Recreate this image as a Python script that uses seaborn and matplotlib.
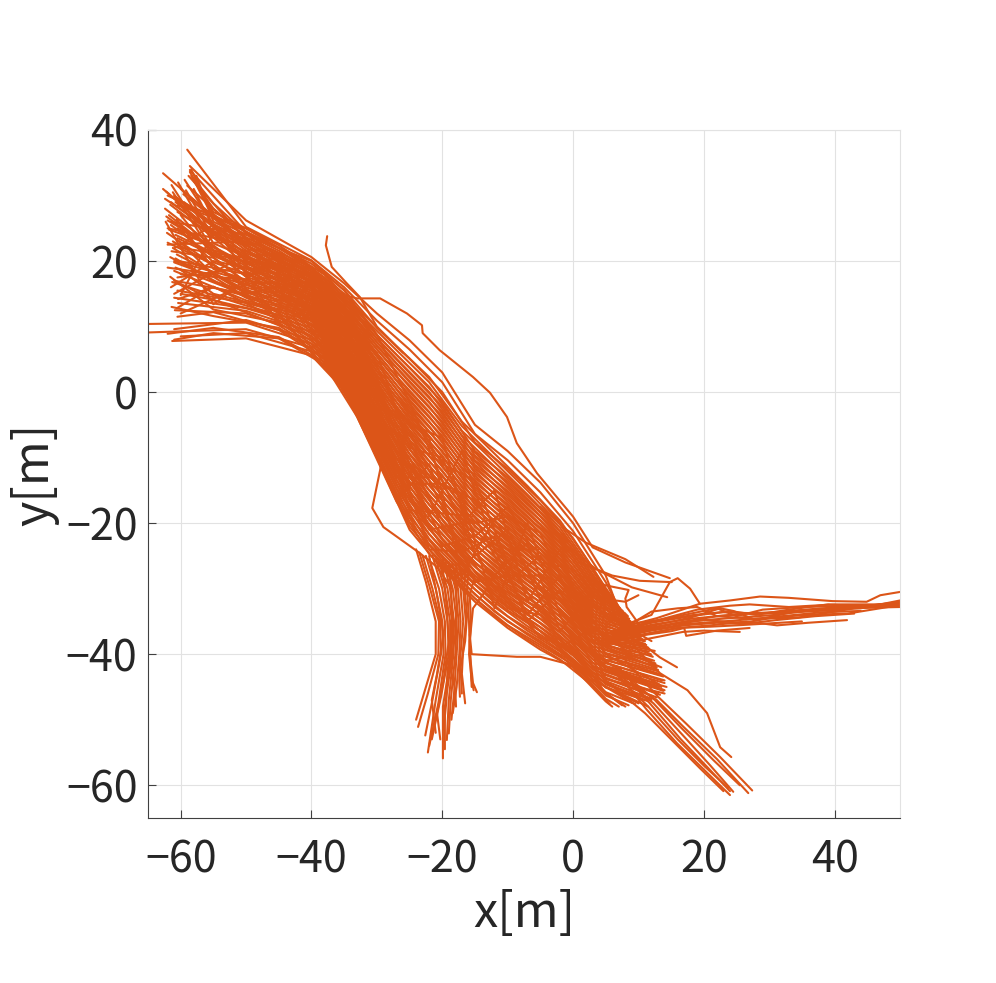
import numpy as np
import pandas as pd
import matplotlib
matplotlib.use('Agg')
import matplotlib.pyplot as plt
import seaborn as sns

# x positions shared by the main band tracks
band_x = [-50, -40, -35, -30, -25, -20, -15, -10, -5, 0, 5]
band2_x = [-55, -45, -38, -33, -27, -22, -17, -12, -7, -2, 3]

# start x, start y, y at each band_x, end x, end y
band_rows = [
    [-61.3, 7.8, 8.2, 5.6, 0.3, -10.0, -21.0, -27.0, -32.0, -36.0, -39.3, -42.0, -47.2, 6.0, -48.0],
    [-60.0, 8.5, 9.0, 6.2, 0.6, -9.6, -20.5, -26.4, -31.5, -35.6, -38.6, -41.6, -46.8, 7.0, -48.0],
    [-65.0, 9.1, 9.6, 6.8, 0.9, -9.1, -19.8, -25.7, -30.9, -35.0, -38.0, -41.3, -46.3, 8.5, -47.8],
    [-65.0, 10.4, 10.6, 7.4, 1.3, -8.4, -19.0, -25.0, -30.1, -34.2, -37.3, -40.9, -45.8, 9.5, -47.6],
    [-61.0, 9.6, 11.0, 8.0, 1.7, -7.8, -18.1, -24.0, -29.3, -33.3, -36.5, -40.2, -45.1, 11.0, -47.0],
    [-60.9, 12.5, 12.0, 8.6, 2.1, -7.2, -17.4, -23.2, -28.7, -32.6, -35.9, -39.9, -44.6, 11.5, -47.2],
    [-60.4, 13.6, 12.4, 9.2, 2.6, -6.7, -16.6, -22.5, -28.0, -32.0, -35.3, -39.4, -44.1, 12.0, -46.8],
    [-61.0, 14.4, 12.8, 9.8, 3.0, -6.1, -15.9, -21.7, -27.3, -31.3, -34.6, -38.9, -43.7, 12.8, -46.6],
    [-61.3, 16.8, 13.2, 10.4, 3.4, -5.6, -15.2, -21.0, -26.6, -30.6, -34.0, -38.4, -43.2, 13.3, -46.2],
    [-60.5, 15.5, 13.6, 10.9, 3.8, -5.0, -14.5, -20.2, -26.0, -29.9, -33.4, -37.8, -42.7, 13.8, -45.6],
    [-61.0, 18.5, 14.0, 11.3, 4.3, -4.5, -13.7, -19.5, -25.3, -29.3, -32.8, -37.3, -42.3, 14.3, -45.0],
    [-61.6, 20.6, 14.4, 11.6, 4.7, -3.9, -13.0, -18.7, -24.6, -28.6, -32.1, -36.7, -41.8, 14.0, -44.4],
    [-60.8, 19.0, 14.8, 11.9, 5.1, -3.4, -12.3, -18.0, -23.9, -27.9, -31.5, -36.1, -41.3, 13.6, -44.0],
    [-61.2, 22.0, 15.2, 12.2, 5.5, -2.8, -11.6, -17.2, -23.3, -27.2, -30.9, -35.6, -40.9, 13.8, -43.4],
    [-60.6, 21.0, 15.6, 12.6, 6.0, -2.3, -10.9, -16.5, -22.6, -26.6, -30.3, -35.0, -40.4, 13.2, -43.0],
    [-62.1, 24.3, 16.0, 12.9, 6.5, -1.7, -10.2, -15.7, -21.9, -25.9, -29.7, -34.4, -39.9, 13.0, -42.4],
    [-61.2, 23.0, 16.4, 13.2, 7.0, -1.2, -9.4, -15.0, -21.2, -25.2, -29.0, -33.8, -39.4, 12.8, -42.0],
    [-61.5, 25.5, 16.8, 13.5, 7.4, -0.6, -8.7, -14.2, -20.6, -24.6, -28.4, -33.2, -39.0, 12.6, -41.4],
    [-60.0, 18.0, 17.2, 13.9, 7.9, -0.1, -8.0, -13.5, -19.9, -23.9, -27.8, -32.6, -38.5, 12.4, -41.0],
    [-61.8, 27.0, 17.6, 14.2, 8.4, 0.5, -7.3, -12.7, -19.2, -23.2, -27.1, -32.1, -38.0, 12.2, -40.4],
    [-60.3, 20.0, 18.0, 14.5, 8.8, 1.0, -6.5, -12.0, -18.5, -22.5, -26.5, -31.5, -37.5, 11.9, -40.0],
    [-62.4, 28.0, 18.4, 14.8, 9.2, 1.5, -5.8, -11.2, -17.9, -21.9, -25.9, -30.9, -37.0, 11.7, -39.2],
    [-60.8, 24.0, 18.8, 15.1, 9.7, 2.1, -5.0, -10.5, -17.2, -21.2, -25.3, -30.4, -36.5, 11.5, -39.0],
    [-62.0, 26.2, 19.2, 15.5, 10.1, 2.6, -4.3, -9.7, -16.5, -20.5, -24.6, -29.8, -36.1, 11.2, -38.6],
    [-60.5, 25.0, 19.6, 15.8, 10.6, 3.2, -3.6, -9.0, -15.8, -19.8, -24.0, -29.2, -35.6, 11.0, -38.0],
    [-62.7, 31.0, 20.0, 16.1, 11.0, 3.7, -2.9, -8.2, -15.2, -19.1, -23.4, -28.6, -35.1, 10.6, -37.7],
    [-61.5, 29.0, 20.4, 16.4, 11.4, 4.3, -2.2, -7.5, -14.5, -18.5, -22.8, -28.0, -34.6, 10.4, -37.3],
    [-60.5, 27.5, 20.8, 16.8, 11.9, 4.8, -1.4, -6.7, -13.8, -17.8, -22.1, -27.5, -34.2, 10.2, -37.0],
    [-62.4, 29.5, 21.2, 17.1, 12.4, 5.4, -0.7, -6.0, -13.1, -17.1, -21.5, -26.9, -33.7, 9.9, -36.6],
    [-61.0, 30.0, 21.6, 17.4, 12.8, 5.9, 0.0, -5.2, -12.4, -16.4, -20.9, -26.3, -33.2, 9.7, -36.3],
    [-59.5, 29.0, 22.0, 17.7, 13.2, 6.5, 0.8, -4.5, -11.7, -15.7, -20.3, -25.7, -32.7, 9.5, -36.0],
    [-62.7, 33.4, 22.4, 18.1, 13.7, 7.0, 1.5, -3.7, -11.1, -15.1, -19.6, -25.2, -32.3, 9.2, -35.6],
    [-60.0, 31.0, 22.8, 18.4, 14.2, 7.6, 2.2, -3.0, -10.4, -14.4, -19.0, -24.6, -31.8, 9.0, -35.3],
    [-58.8, 33.0, 23.2, 18.7, 14.6, 8.1, 2.9, -2.2, -9.7, -13.7, -18.4, -24.0, -31.3, 8.7, -35.0],
    [-59.0, 31.5, 23.6, 19.0, 15.0, 8.7, 3.7, -1.5, -9.0, -13.0, -17.8, -23.5, -30.8, 8.5, -34.7],
    [-58.6, 33.9, 24.4, 19.6, 15.6, 9.8, 5.1, 0.0, -7.7, -11.7, -16.5, -22.3, -29.9, 8.0, -34.2],
    [-59.0, 37.0, 25.2, 20.1, 16.0, 10.9, 6.5, 1.5, -6.4, -10.4, -15.3, -21.2, -29.0, 7.5, -33.8],
    [-58.6, 34.5, 26.2, 20.6, 16.6, 12.0, 7.9, 3.0, -5.0, -9.0, -13.8, -20.0, -28.0, 7.0, -33.4],
    # tracks that drift across the band
    [-62.0, 22.5, 23.0, 17.5, 10.2, 0.6, -11.0, -19.5, -26.5, -32.0, -36.5, -41.0, -45.0, 10.0, -47.5],
    [-61.0, 15.0, 21.0, 14.0, 6.0, -4.0, -10.0, -20.5, -27.5, -33.0, -34.0, -40.0, -44.5, 12.0, -47.0],
    [-60.5, 28.5, 25.0, 19.0, 12.5, 2.0, -12.5, -22.5, -28.5, -30.5, -33.0, -37.0, -42.0, 14.0, -45.5],
    [-61.5, 26.0, 24.0, 20.0, 15.5, 8.8, -1.5, -13.5, -24.5, -31.5, -37.5, -39.0, -46.0, 8.0, -48.0],
    [-60.0, 12.0, 16.5, 13.0, 8.0, -3.0, -16.0, -23.5, -22.0, -24.0, -24.0, -30.0, -34.0, 12.0, -38.0],
    [-60.5, 17.5, 19.0, 12.0, 2.8, -7.0, -14.0, -14.0, -16.5, -22.5, -30.0, -35.5, -38.5, 13.5, -42.0],
    [-62.0, 25.0, 22.5, 15.0, 4.8, -0.5, -6.0, -16.0, -20.0, -19.0, -21.5, -32.5, -43.8, 14.0, -46.0],
    [-60.0, 22.0, 20.5, 18.0, 13.0, 4.0, -7.5, -17.5, -29.0, -28.0, -28.0, -34.0, -37.0, 9.0, -36.0],
    [-61.0, 20.0, 17.0, 16.0, 8.6, 2.5, -3.0, -11.0, -13.5, -26.0, -33.5, -38.0, -41.0, 11.0, -40.0],
    [-62.0, 30.0, 24.5, 16.5, 9.5, 6.0, -8.5, -10.0, -22.0, -17.5, -26.0, -27.0, -33.0, 10.0, -37.5],
    [-60.5, 23.5, 18.5, 11.0, 6.8, -1.0, -18.0, -18.5, -19.0, -29.0, -25.0, -31.0, -40.0, 13.0, -44.5],
    [-61.0, 17.0, 15.0, 17.0, 12.0, 1.0, -4.8, -7.0, -25.0, -21.0, -31.5, -30.0, -38.0, 12.5, -39.5],
]

# second set of tracks, y at each band2_x, to close the gaps in the band
band2_rows = [
    [-61.0, 8.0, 9.0, 8.2, 4.2, -3.8, -16.7, -24.7, -29.7, -34.2, -37.7, -40.8, -44.8, 5.6, -47.6],
    [-62.0, 8.9, 9.8, 8.4, 4.6, -3.3, -16.0, -24.0, -29.0, -33.5, -37.0, -40.2, -44.3, 7.5, -47.8],
    [-60.5, 11.5, 12.2, 9.5, 5.0, -2.9, -15.4, -23.2, -28.3, -32.8, -36.4, -39.6, -43.8, 9.0, -47.4],
    [-61.4, 13.0, 11.6, 9.8, 5.3, -2.4, -14.7, -22.4, -27.6, -32.1, -35.7, -39.0, -43.3, 10.5, -47.0],
    [-60.0, 15.0, 14.1, 10.2, 5.7, -2.0, -14.1, -21.7, -26.9, -31.4, -35.1, -38.4, -42.8, 12.2, -46.4],
    [-61.6, 17.6, 12.6, 10.6, 6.1, -1.5, -13.4, -20.9, -26.2, -30.8, -34.5, -37.9, -42.3, 13.0, -46.0],
    [-60.6, 12.8, 16.1, 11.0, 6.5, -1.0, -12.7, -20.2, -25.5, -30.1, -33.8, -37.3, -41.8, 13.6, -45.4],
    [-61.0, 19.8, 17.6, 11.4, 6.9, -0.6, -12.1, -19.5, -24.8, -29.4, -33.2, -36.7, -41.3, 13.2, -44.6],
    [-60.0, 16.5, 14.0, 11.7, 7.2, -0.1, -11.4, -18.7, -24.1, -28.7, -32.5, -36.1, -40.8, 14.0, -44.0],
    [-62.0, 22.8, 19.5, 12.1, 7.6, 0.3, -10.8, -18.0, -23.4, -28.0, -31.9, -35.5, -40.3, 13.4, -43.2],
    [-60.2, 18.8, 15.0, 12.5, 8.0, 0.8, -10.1, -17.2, -22.7, -27.3, -31.2, -34.9, -39.8, 13.0, -42.6],
    [-61.4, 21.5, 20.5, 12.9, 8.4, 1.3, -9.4, -16.5, -22.0, -26.6, -30.6, -34.3, -39.3, 12.6, -41.8],
    [-60.4, 14.2, 16.0, 13.3, 8.8, 1.7, -8.8, -15.7, -21.3, -25.9, -29.9, -33.7, -38.8, 12.0, -41.0],
    [-62.2, 26.8, 21.6, 13.6, 9.1, 2.2, -8.1, -15.0, -20.6, -25.2, -29.3, -33.1, -38.3, 12.0, -40.2],
    [-60.8, 20.4, 16.9, 14.0, 9.5, 2.6, -7.5, -14.2, -19.9, -24.5, -28.6, -32.5, -37.8, 11.6, -39.6],
    [-61.8, 24.8, 22.4, 14.4, 9.9, 3.1, -6.8, -13.5, -19.2, -23.9, -28.0, -32.0, -37.3, 11.4, -39.0],
    [-60.2, 23.0, 17.9, 14.8, 10.3, 3.6, -6.1, -12.7, -18.5, -23.2, -27.3, -31.4, -36.8, 11.0, -38.4],
    [-61.6, 28.6, 23.6, 15.2, 10.7, 4.0, -5.5, -12.0, -17.8, -22.5, -26.7, -30.8, -36.3, 10.8, -38.0],
    [-60.6, 26.4, 18.8, 15.5, 11.0, 4.5, -4.8, -11.2, -17.1, -21.8, -26.0, -30.2, -35.8, 10.4, -37.6],
    [-62.2, 30.6, 24.2, 15.9, 11.4, 4.9, -4.2, -10.5, -16.4, -21.1, -25.4, -29.6, -35.3, 10.2, -37.2],
    [-59.8, 24.5, 19.8, 16.3, 11.8, 5.4, -3.5, -9.7, -15.7, -20.4, -24.7, -29.0, -34.8, 10.0, -36.8],
    [-61.0, 29.8, 25.2, 16.7, 12.2, 5.9, -2.8, -9.0, -15.0, -19.7, -24.1, -28.4, -34.3, 9.8, -36.4],
    [-60.0, 27.0, 20.8, 17.1, 12.6, 6.3, -2.2, -8.2, -14.3, -19.0, -23.4, -27.8, -33.8, 9.5, -36.0],
    [-59.6, 30.2, 26.6, 17.4, 12.9, 6.8, -1.5, -7.5, -13.6, -18.3, -22.8, -27.2, -33.3, 9.2, -35.8],
    [-61.4, 31.6, 21.7, 17.8, 13.3, 7.2, -0.9, -6.7, -12.9, -17.6, -22.1, -26.6, -32.8, 9.0, -35.4],
    [-59.4, 28.2, 27.2, 18.2, 13.7, 7.7, -0.2, -6.0, -12.2, -17.0, -21.5, -26.1, -32.3, 8.8, -35.0],
    [-60.4, 32.0, 22.7, 18.6, 14.1, 8.2, 0.5, -5.2, -11.5, -16.3, -20.8, -25.5, -31.8, 8.6, -34.6],
    [-58.0, 32.2, 28.0, 19.0, 14.5, 8.6, 1.1, -4.5, -10.8, -15.6, -20.2, -24.9, -31.3, 8.4, -34.2],
    [-59.2, 30.8, 23.6, 19.3, 14.8, 9.1, 1.8, -3.7, -10.1, -14.9, -19.5, -24.3, -30.8, 8.2, -34.0],
    [-58.4, 33.0, 28.8, 19.7, 15.2, 9.5, 2.4, -3.0, -9.4, -14.2, -18.9, -23.7, -30.3, 8.0, -33.8],
    [-60.8, 29.0, 24.6, 20.1, 15.6, 10.0, 3.1, -2.2, -8.7, -13.5, -18.2, -23.1, -29.8, 7.6, -33.4],
    [-58.0, 31.0, 25.1, 20.5, 16.0, 10.5, 3.8, -1.5, -8.0, -12.8, -17.6, -22.5, -29.3, 7.2, -33.0],
    [-59.4, 32.4, 25.6, 20.9, 16.4, 10.9, 4.4, -0.7, -7.3, -12.1, -16.9, -21.9, -28.8, 6.8, -32.6],
    [-57.6, 33.0, 26.0, 21.2, 16.7, 11.4, 5.1, 0.0, -6.6, -11.4, -16.3, -21.3, -28.3, 6.4, -32.2],
    [-58.2, 32.8, 26.5, 21.6, 17.1, 11.8, 5.7, 0.8, -5.9, -10.7, -15.6, -20.7, -27.8, 6.2, -32.0],
    [-58.4, 34.0, 27.0, 22.0, 17.5, 12.3, 6.4, 1.5, -5.2, -10.1, -15.0, -20.2, -27.3, 6.0, -31.6],
    [-58.6, 33.6, 27.5, 22.4, 17.9, 12.8, 7.0, 2.3, -4.5, -9.4, -14.3, -19.6, -26.8, 5.6, -31.2],
    # crossing tracks, filling the fan and the core
    [-62.0, 19.0, 18.0, 12.0, 3.6, -0.4, -9.0, -24.0, -24.4, -22.0, -35.0, -30.2, -42.0, 13.5, -45.0],
    [-61.2, 30.5, 21.0, 19.0, 9.0, -1.8, -3.0, -7.0, -28.0, -19.4, -27.0, -39.0, -36.0, 9.0, -40.0],
    [-60.0, 14.8, 24.4, 16.0, 13.0, 3.0, -13.0, -13.0, -16.0, -33.0, -20.0, -34.0, -44.0, 11.5, -48.0],
    [-62.3, 26.0, 13.4, 21.0, 7.5, 7.0, -5.0, -21.0, -20.0, -15.0, -32.0, -24.0, -38.0, 12.5, -42.0],
    [-60.9, 22.0, 25.5, 10.5, 14.0, -2.5, -16.5, -11.0, -25.0, -28.0, -23.0, -36.5, -30.5, 8.0, -36.5],
    [-61.5, 16.0, 20.0, 18.0, 6.0, 9.0, -8.0, -19.0, -9.0, -24.0, -34.0, -28.0, -40.0, 10.0, -44.0],
]

# lines that leave the band, x and y lists
stray_x = [
    [-37.6, -37.8, -36.9, -34.6, -32.6, -30.0, -26.0],
    [-36.0, -33.0, -29.5, -25.4, -23.1, -23.0, -20.4, -15.3, -12.7, -10.1, -8.6, -5.5, 0.0, 3.0, 8.0, 14.8],
    [-29.0, -29.5, -30.7, -29.0, -23.4, -20.8, -18.5],
    [-15.8, -15.5, -8.6, -5.0, 0.0, 3.0],
    [10.2, 12.0, 13.3, 15.9],
    [5.0, 10.0, 13.3, 17.5, 20.5, 22.5, 24.2],
    [-5.0, -1.0, 2.0, 8.0, 12.3],
    [-6.0, -1.0, 3.5, 9.0, 14.4],
    [-3.0, 1.0, 6.0, 10.2, 15.1],
    [1.0, 5.0, 8.5, 8.0, 8.2, 10.5],
    [3.0, 6.5, 8.0, 10.0],
    [8.0, 12.0, 14.8, 16.0, 17.9, 19.4],
    [7.0, 12.0, 16.0, 19.0, 22.0, 25.0],
]
stray_y = [
    [23.8, 22.4, 19.1, 16.6, 14.5, 10.0, 6.0],
    [15.0, 14.3, 14.3, 12.0, 10.2, 9.0, 6.4, 2.3, -0.1, -3.8, -7.8, -12.4, -19.0, -23.7, -26.0, -28.4],
    [-8.0, -11.9, -17.7, -20.6, -24.6, -26.7, -30.0],
    [-37.0, -40.0, -40.4, -40.4, -41.7, -43.0],
    [-38.3, -39.5, -40.5, -42.0],
    [-34.0, -39.5, -42.9, -45.5, -49.0, -54.2, -55.7],
    [-17.5, -21.0, -23.0, -25.5, -28.2],
    [-20.0, -23.5, -27.0, -29.8, -31.3],
    [-21.0, -26.0, -28.0, -28.8, -29.0],
    [-28.0, -29.5, -30.2, -31.5, -32.8, -36.0],
    [-31.0, -31.8, -32.0, -31.0],
    [-35.5, -34.0, -29.0, -28.4, -30.0, -32.3],
    [-36.5, -33.5, -33.0, -32.8, -34.2, -34.0],
]

# branch going down near x=-20
branch_x = [
    [-24.0, -22.5, -21.0, -21.0, -22.5, -24.0],
    [-23.5, -22.0, -20.5, -20.6, -22.2, -23.7],
    [-23.0, -21.5, -20.3, -20.2, -21.5, -22.6],
    [-22.5, -21.0, -20.0, -19.8, -21.0, -22.2],
    [-22.0, -20.5, -19.6, -19.5, -20.6, -22.0],
    [-21.5, -20.0, -19.2, -19.0, -20.2, -21.6],
    [-21.0, -19.6, -18.8, -18.8, -19.9, -19.9],
    [-20.5, -19.2, -18.5, -18.6, -19.6, -19.6],
    [-20.0, -18.8, -18.2, -18.3, -19.0, -19.3],
    [-19.5, -18.4, -17.8, -18.0, -18.7, -19.0],
    [-19.0, -18.0, -17.5, -17.8, -18.2, -18.6],
    [-18.5, -17.6, -17.2, -17.4, -17.8, -18.4],
    [-18.0, -17.2, -16.8, -17.2, -17.4, -17.3],
    [-17.5, -16.8, -16.4, -16.8, -17.0, -16.5],
    [-16.5, -16.6, -16.2, -16.5, -17.2, -17.0],
    [-16.0, -16.2, -15.9, -15.8, -15.3, -14.7],
    [-15.0, -15.8, -15.6, -15.9, -15.5, -15.2],
    [-12.0, -13.5, -15.3, -15.8, -15.6, -15.5],
    [-22.0, -20.8, -19.8, -20.8, -21.6, -21.0],
    [-20.0, -19.4, -19.0, -19.8, -20.8, -20.3],
    [-19.0, -18.6, -18.4, -19.2, -19.4, -19.8],
    [-18.0, -17.8, -18.0, -18.8, -18.0, -17.9],
]
branch_y = [
    [-24.0, -29.0, -35.0, -40.0, -45.0, -50.0],
    [-24.5, -29.5, -35.0, -40.0, -46.0, -51.1],
    [-25.0, -30.0, -35.0, -40.0, -47.0, -52.4],
    [-25.0, -30.0, -35.0, -40.0, -47.0, -55.0],
    [-25.5, -30.0, -35.0, -40.0, -47.5, -54.0],
    [-25.0, -30.0, -35.0, -40.0, -46.5, -53.0],
    [-25.5, -30.0, -35.0, -41.0, -48.0, -55.9],
    [-26.0, -30.0, -35.0, -41.0, -48.0, -54.5],
    [-25.0, -30.0, -35.0, -40.0, -47.0, -53.1],
    [-26.0, -30.0, -35.0, -40.0, -47.0, -52.1],
    [-26.0, -30.0, -35.0, -40.0, -46.0, -50.0],
    [-26.0, -30.0, -35.0, -40.0, -45.0, -49.0],
    [-26.0, -30.0, -35.0, -40.0, -44.0, -46.5],
    [-26.0, -30.0, -35.0, -39.0, -43.0, -47.5],
    [-27.0, -30.0, -34.0, -38.0, -42.0, -46.0],
    [-27.0, -30.0, -35.3, -39.8, -44.4, -45.8],
    [-28.0, -31.0, -35.0, -40.0, -44.0, -45.5],
    [-28.0, -30.5, -33.0, -38.0, -43.0, -45.0],
    [-25.0, -31.0, -37.0, -43.0, -47.0, -52.0],
    [-26.0, -32.0, -38.0, -44.0, -49.0, -53.0],
    [-26.0, -31.5, -37.5, -42.5, -47.5, -51.5],
    [-27.0, -32.5, -37.0, -42.0, -45.5, -48.0],
]

# right hand arm towards x=50
arm_x = [
    [5.0, 10.2, 16.8, 20.0, 25.5],
    [5.0, 10.5, 16.0, 21.0, 26.5, 31.2, 36.0, 41.9],
    [5.0, 11.0, 17.0, 23.0, 30.0, 36.0, 42.0, 50.0],
    [5.0, 11.5, 17.5, 24.0, 31.0, 37.0, 44.0, 50.0],
    [6.0, 12.0, 18.0, 25.0, 32.0, 38.0, 45.0, 50.0],
    [6.0, 12.0, 18.0, 24.0, 28.0, 33.0, 39.0, 45.0, 50.0],
    [7.0, 12.8, 19.4, 24.0, 28.6, 33.0, 39.7, 44.9, 47.0, 50.0],
    [8.0, 13.0, 19.0, 24.0, 27.0, 33.0, 40.0, 46.0, 50.0],
    [8.0, 13.0, 18.0, 22.0, 25.0, 29.0, 35.0, 42.0, 50.0],
    [4.0, 9.0, 15.0, 20.0, 26.0, 32.0, 38.0, 44.0],
    [6.0, 12.4, 18.5, 23.0, 29.0, 34.0, 41.0, 50.0],
    [5.5, 11.0, 16.0, 22.0, 27.5, 34.5, 43.0, 50.0],
    [5.0, 11.0, 16.0, 21.0, 25.0, 30.0, 35.0],
    [6.0, 12.0, 17.0, 22.0, 26.0, 31.0, 37.0, 43.0],
    [7.0, 12.5, 18.0, 22.5, 24.5, 28.0, 34.7, 41.0, 50.0],
    [5.0, 10.0, 15.0, 17.0, 17.3, 22.0, 27.0],
]
arm_y = [
    [-38.5, -37.9, -36.6, -36.4, -36.6],
    [-38.5, -37.0, -36.0, -35.6, -35.0, -35.6, -35.2, -34.8],
    [-38.0, -36.5, -35.4, -35.0, -34.4, -34.0, -33.8, -32.5],
    [-37.5, -36.0, -35.0, -34.5, -34.0, -33.2, -33.0, -32.0],
    [-37.0, -35.5, -34.6, -33.9, -33.5, -33.0, -32.6, -32.3],
    [-36.5, -35.2, -34.2, -33.4, -34.0, -33.2, -32.4, -32.8, -31.8],
    [-36.0, -34.5, -32.3, -31.8, -31.2, -31.4, -31.9, -32.0, -31.0, -30.5],
    [-36.0, -34.8, -33.2, -32.6, -32.4, -32.8, -32.4, -32.4, -32.2],
    [-35.5, -34.8, -33.8, -33.0, -34.2, -33.2, -32.8, -32.6, -32.5],
    [-38.0, -36.8, -35.5, -34.8, -35.2, -34.2, -33.6, -33.4],
    [-37.2, -35.0, -34.0, -33.6, -33.8, -33.6, -33.2, -32.0],
    [-37.8, -36.2, -35.2, -34.2, -34.6, -34.4, -33.0, -32.6],
    [-38.2, -37.0, -36.0, -35.8, -35.6, -35.3, -35.0],
    [-37.6, -36.4, -35.6, -35.2, -35.4, -34.8, -34.2, -33.8],
    [-36.8, -35.6, -34.4, -33.0, -33.4, -34.8, -33.3, -33.0, -32.8],
    [-38.0, -37.2, -36.5, -36.0, -37.2, -36.4, -36.0],
]

# lower right tail ending near (25, -61)
tail_x = [
    [6.0, 11.3, 15.9, 20.0, 24.0],
    [6.5, 11.5, 16.0, 20.0, 23.7],
    [7.0, 12.0, 16.5, 20.5, 24.0],
    [7.5, 12.3, 17.0, 21.0, 24.5],
    [8.0, 12.8, 16.8, 22.0, 26.8],
    [8.0, 13.0, 17.3, 22.5, 27.4],
    [9.0, 12.5, 16.5, 21.5, 25.5],
    [5.0, 11.0, 15.5, 19.5, 23.0],
]
tail_y = [
    [-42.0, -48.5, -53.6, -57.6, -61.5],
    [-43.0, -48.0, -53.0, -57.0, -60.4],
    [-42.0, -47.8, -53.0, -57.2, -60.9],
    [-43.5, -47.5, -52.6, -57.0, -61.0],
    [-44.0, -47.0, -51.0, -56.0, -61.2],
    [-41.0, -46.5, -50.6, -55.7, -60.8],
    [-44.0, -47.0, -51.2, -56.2, -60.0],
    [-44.0, -49.0, -53.5, -57.5, -60.9],
]

x_ticks = [-60, -40, -20, 0, 20, 40]
y_ticks = [-60, -40, -20, 0, 20, 40]

# long table for seaborn, one track id per line
frames = []
track = 0
for rows, grid in [(band_rows, band_x), (band2_rows, band2_x)]:
    for row in rows:
        xs = [row[0]] + grid + [row[13]]
        ys = [row[1]] + row[2:13] + [row[14]]
        frames.append(pd.DataFrame({'x': xs, 'y': ys, 'track': track}))
        track += 1
for xs_list, ys_list in [(stray_x, stray_y), (branch_x, branch_y), (arm_x, arm_y), (tail_x, tail_y)]:
    for xs, ys in zip(xs_list, ys_list):
        frames.append(pd.DataFrame({'x': xs, 'y': ys, 'track': track}))
        track += 1
df = pd.concat(frames, ignore_index=True)

sns.set_theme(style='white')
plt.rcParams['font.family'] = ['Noto Sans CJK JP', 'DejaVu Sans']

fig = plt.figure(figsize=(9.96, 9.83), dpi=100)
ax = fig.add_axes([148 / 996, 1 - 818 / 983, 752 / 996, 688 / 983])

sns.lineplot(data=df, x='x', y='y', units='track', estimator=None, sort=False,
             color='#DC5518', linewidth=1.5, legend=False, ax=ax)

ax.set_xlim(-65, 50)
ax.set_ylim(-65, 40)
ax.set_xticks(x_ticks)
ax.set_yticks(y_ticks)
ax.grid(True, color='#e2e2e2', linewidth=0.8)
ax.set_axisbelow(True)
ax.tick_params(axis='both', direction='in', length=6, width=0.8, color='#404040',
               labelsize=31, labelcolor='#262626', left=True, bottom=True, top=False, right=False)
ax.tick_params(axis='x', pad=15)
ax.tick_params(axis='y', pad=7.5)
for side in ['left', 'bottom']:
    ax.spines[side].set_color('#404040')
    ax.spines[side].set_linewidth(0.8)
for side in ['top', 'right']:
    ax.spines[side].set_color('#e2e2e2')
    ax.spines[side].set_linewidth(0.8)
ax.set_xlabel('x[m]', fontsize=35, color='#262626', labelpad=4)
ax.set_ylabel('y[m]', fontsize=35, color='#262626', labelpad=5)

fig.savefig('out.png', dpi=100)
